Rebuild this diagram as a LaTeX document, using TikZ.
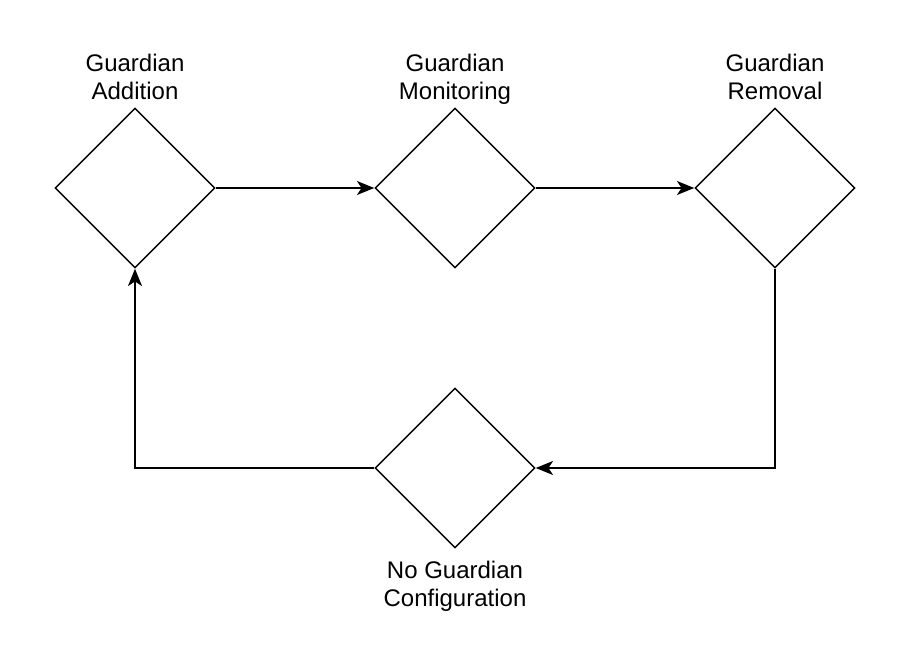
\documentclass[tikz,border=0pt]{standalone}
\usepackage{fontspec}
\setmainfont{Liberation Sans}
\usetikzlibrary{shapes.geometric,arrows.meta}
\begin{document}
\begin{tikzpicture}[x=0.75pt,y=-0.75pt,
  dia/.style={draw=black,shape=diamond,minimum width=120pt,minimum height=120pt,inner sep=0pt,line width=1.1pt},
  lbl/.style={align=center,font=\fontsize{18}{20.3}\selectfont,inner sep=0pt,anchor=base},
  conn/.style={draw=black,line width=1.3pt,-{Stealth[length=13pt,width=10.5pt,inset=3.5pt]}}]
\useasboundingbox[fill=white] (0,0) rectangle (908,646);
\node[dia] (d1) at (135,188) {};
\node[dia] (d2) at (455,188) {};
\node[dia] (d3) at (775,188) {};
\node[dia] (d4) at (455,468) {};
\node[lbl] (l1) at (135,99) {Guardian\\Addition};
\node[lbl] (l2) at (455,99) {Guardian\\Monitoring};
\node[lbl] (l3) at (775,99) {Guardian\\Removal};
\node[lbl] (l4) at (455,606) {No Guardian\\Configuration};
\draw[conn] (d1.east) -- (d2.west);
\draw[conn] (d2.east) -- (d3.west);
\draw[conn] (d3.south) |- (d4.east);
\draw[conn] (d4.west) -| (d1.south);
\end{tikzpicture}
\end{document}
